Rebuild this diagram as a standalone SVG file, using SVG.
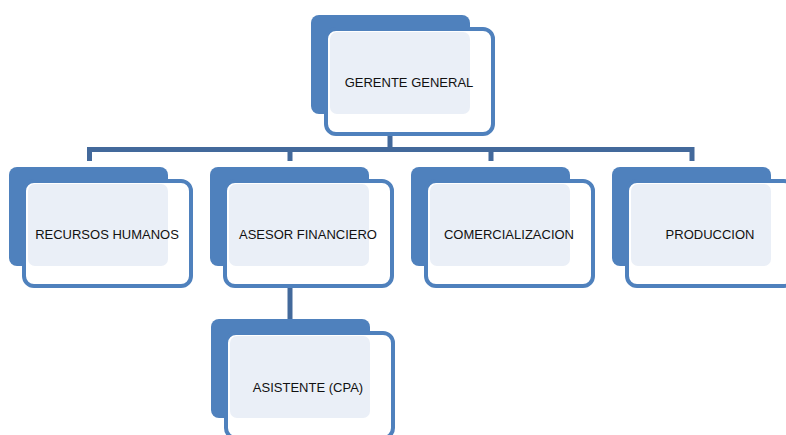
<svg xmlns="http://www.w3.org/2000/svg" width="786" height="435" viewBox="0 0 786 435">
<style>
.back{fill:#4F81BD}
.frame{fill:#FFFFFF;stroke:#4F81BD;stroke-width:4}
.light{fill:#EAEFF7}
.lbl{font-family:"Liberation Sans",Arial,sans-serif;font-size:13px;fill:#111111;text-anchor:middle}
.conn{fill:none;stroke:#43699B;stroke-width:5}
</style>
<defs>
<g id="box">
<rect class="back" x="0" y="0" width="159" height="99" rx="8"/>
<rect class="frame" x="15" y="14" width="167" height="105" rx="10"/>
<rect class="light" x="19" y="17" width="140" height="82" rx="7"/>
</g>
</defs>
<g id="connectors">
<path class="conn" d="M390,118 V149.5 M89.5,161 V149.5 H692 V161 M290,149.5 V161 M491,149.5 V161"/>
<path class="conn" d="M290,286 V319"/>
</g>
<g id="gerente">
<use href="#box" x="311" y="15"/>
<text class="lbl" x="409" y="87">GERENTE GENERAL</text>
</g>
<g id="rrhh">
<use href="#box" x="9" y="167"/>
<text class="lbl" x="107" y="239">RECURSOS HUMANOS</text>
</g>
<g id="asesor">
<use href="#box" x="210" y="167"/>
<text class="lbl" x="308" y="239">ASESOR FINANCIERO</text>
</g>
<g id="comercial">
<use href="#box" x="411" y="167"/>
<text class="lbl" x="509" y="239">COMERCIALIZACION</text>
</g>
<g id="produccion">
<use href="#box" x="612" y="167"/>
<text class="lbl" x="710" y="239">PRODUCCION</text>
</g>
<g id="asistente">
<use href="#box" x="211" y="319"/>
<text class="lbl" x="308" y="392">ASISTENTE (CPA)</text>
</g>
</svg>
